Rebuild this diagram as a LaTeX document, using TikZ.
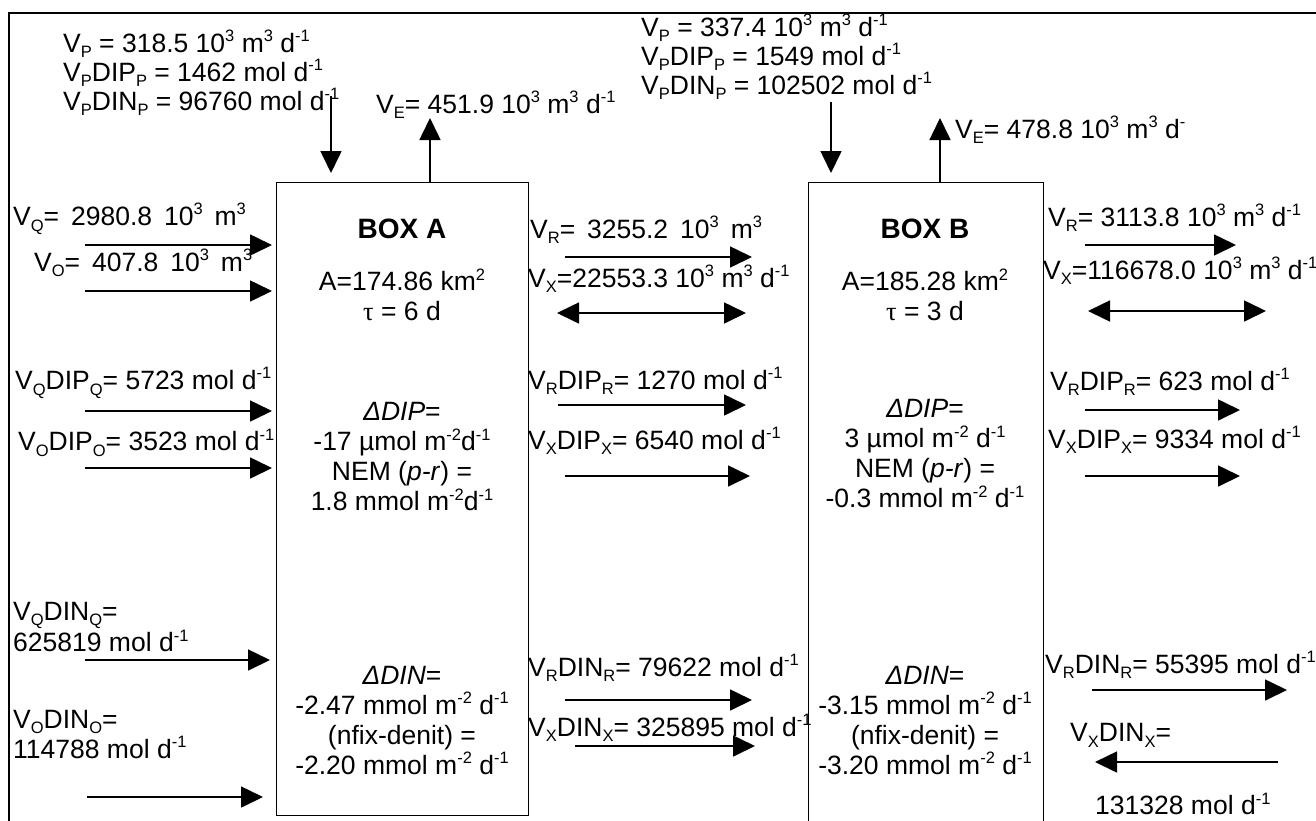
\documentclass[tikz,border=0pt]{standalone}
\usepackage{fontspec}
\setmainfont{Liberation Sans}
\newfontfamily\serifgr{Liberation Serif}
\usepackage{tikz}
\usetikzlibrary{arrows.meta,positioning}

\newcommand{\hi}[1]{\raisebox{0.40em}{\fontsize{16.5}{16.5}\selectfont #1}}
\newcommand{\lo}[1]{\raisebox{-0.22em}{\fontsize{16.5}{16.5}\selectfont #1}}

\tikzset{
  lbl/.style={anchor=west, inner sep=0pt, font=\fontsize{26.5}{30}\selectfont},
  inbox/.style={inner sep=0pt, align=center, font=\fontsize{26.5}{30}\selectfont},
  budget/.style={draw, line width=0.9pt, inner sep=0pt, outer sep=0pt, anchor=north west},
  flow/.style={-{Triangle[length=22pt,width=21pt]}, line width=1.6pt},
  mix/.style={{Triangle[length=22pt,width=21pt]}-{Triangle[length=22pt,width=21pt]}, line width=1.6pt},
}

\begin{document}
\begin{tikzpicture}[x=1pt, y=-1pt]
  \useasboundingbox (0,0) rectangle (1316,820);
  % frame
  \draw[line width=2.2pt] (9,830) -- (9,13) -- (1330,13);
  % boxes
  \node[budget, minimum width=252pt, minimum height=633pt] (boxA) at (276,182) {};
  \node[budget, minimum width=235pt, minimum height=660pt] (boxB) at (808,182) {};

  % box A contents
  \node[inbox, font=\fontsize{28}{30}\selectfont\bfseries] (nameA) at (402,229) {BOX A};
  \node[inbox] (areaA) at (402,280) {A=174.86 km\hi{2}};
  \node[inbox] (tauA) at (402,311) {{\serifgr τ} = 6 d};
  \node[inbox] (dipA) at (402,457) {\textit{ΔDIP}=\\-17 µmol m\hi{-2}d\hi{-1}\\NEM (\textit{p-r}) =\\1.8 mmol m\hi{-2}d\hi{-1}};
  \node[inbox] (dinA) at (402,720) {\textit{ΔDIN}=\\-2.47 mmol m\hi{-2} d\hi{-1}\\(nfix-denit) =\\-2.20 mmol m\hi{-2} d\hi{-1}};

  % box B contents
  \node[inbox, font=\fontsize{28}{30}\selectfont\bfseries] (nameB) at (925,229) {BOX B};
  \node[inbox] (areaB) at (925,280) {A=185.28 km\hi{2}};
  \node[inbox] (tauB) at (925,311) {{\serifgr τ} = 3 d};
  \node[inbox] (dipB) at (925,454) {\textit{ΔDIP}=\\3 µmol m\hi{-2} d\hi{-1}\\NEM (\textit{p-r}) =\\-0.3 mmol m\hi{-2} d\hi{-1}};
  \node[inbox] (dinB) at (925,720) {\textit{ΔDIN}=\\-3.15 mmol m\hi{-2} d\hi{-1}\\(nfix-denit) =\\-3.20 mmol m\hi{-2} d\hi{-1}};

  % precipitation and evaporation
  \node[lbl] (pA1) at (63,44) {V\lo{P} = 318.5 10\hi{3} m\hi{3} d\hi{-1}};
  \node[lbl] (pA2) at (63,73) {V\lo{P}DIP\lo{P} = 1462 mol d\hi{-1}};
  \node[lbl] (pA3) at (63,102) {V\lo{P}DIN\lo{P} = 96760 mol d\hi{-1}};
  \node[lbl] (eA) at (376,105) {V\lo{E}= 451.9 10\hi{3} m\hi{3} d\hi{-1}};
  \node[lbl] (pB1) at (641,28) {V\lo{P} = 337.4 10\hi{3} m\hi{3} d\hi{-1}};
  \node[lbl] (pB2) at (641,57) {V\lo{P}DIP\lo{P} = 1549 mol d\hi{-1}};
  \node[lbl] (pB3) at (641,86) {V\lo{P}DIN\lo{P} = 102502 mol d\hi{-1}};
  \node[lbl] (eB) at (955,130) {V\lo{E}= 478.8 10\hi{3} m\hi{3} d\hi{-}};
  \coordinate (pAtop) at (331,96);
  \coordinate (eAtip) at (430,118);
  \coordinate (pBtop) at (831,102);
  \coordinate (eBtip) at (940,118);
  \draw[flow, shorten >=9pt] (pAtop) -- (pAtop |- boxA.north);
  \draw[flow] (eAtip |- boxA.north) -- (eAtip);
  \draw[flow, shorten >=9pt] (pBtop) -- (pBtop |- boxB.north);
  \draw[flow] (eBtip |- boxB.north) -- (eBtip);

  % inflow to box A
  \node[lbl] (qA) at (13,219) {V\lo{Q}=\hspace{0.45em}2980.8\hspace{0.45em}10\hi{3}\hspace{0.45em}m\hi{3}};
  \node[lbl] (oA) at (34,263) {V\lo{O}=\hspace{0.45em}407.8\hspace{0.45em}10\hi{3}\hspace{0.45em}m\hi{3}};
  \node[lbl] (qdipA) at (15,383) {V\lo{Q}DIP\lo{Q}= 5723 mol d\hi{-1}};
  \node[lbl] (odipA) at (18,443) {V\lo{O}DIP\lo{O}= 3523 mol d\hi{-1}};
  \node[lbl, align=left] (qdinA) at (13,627) {V\lo{Q}DIN\lo{Q}=\\625819 mol d\hi{-1}};
  \node[lbl, align=left] (odinA) at (13,734) {V\lo{O}DIN\lo{O}=\\114788 mol d\hi{-1}};
  \coordinate (q1) at (85,245);  \coordinate (q2) at (272,245);
  \coordinate (o1) at (85,291);  \coordinate (o2) at (272,291);
  \coordinate (qd1) at (85,411); \coordinate (qd2) at (272,411);
  \coordinate (od1) at (85,468); \coordinate (od2) at (272,468);
  \coordinate (qn1) at (85,660); \coordinate (qn2) at (270,660);
  \coordinate (on1) at (87,797); \coordinate (on2) at (263,797);
  \draw[flow] (q1) -- (q2);
  \draw[flow] (o1) -- (o2);
  \draw[flow] (qd1) -- (qd2);
  \draw[flow] (od1) -- (od2);
  \draw[flow] (qn1) -- (qn2);
  \draw[flow] (on1) -- (on2);

  % exchange A -- B
  \node[lbl] (rAB) at (530,230) {V\lo{R}=\hspace{0.45em}3255.2\hspace{0.45em}10\hi{3}\hspace{0.45em}m\hi{3}};
  \node[lbl] (xAB) at (528,279) {V\lo{X}=22553.3 10\hi{3} m\hi{3} d\hi{-1}};
  \node[lbl] (rdipAB) at (528,381) {V\lo{R}DIP\lo{R}= 1270 mol d\hi{-1}};
  \node[lbl] (xdipAB) at (528,441) {V\lo{X}DIP\lo{X}= 6540 mol d\hi{-1}};
  \node[lbl] (rdinAB) at (528,668) {V\lo{R}DIN\lo{R}= 79622 mol d\hi{-1}};
  \node[lbl] (xdinAB) at (528,728) {V\lo{X}DIN\lo{X}= 325895 mol d\hi{-1}};
  \coordinate (r1) at (565,257);  \coordinate (r2) at (752,257);
  \coordinate (x1) at (557,313);  \coordinate (x2) at (746,313);
  \coordinate (rd1) at (558,405); \coordinate (rd2) at (746,405);
  \coordinate (xd1) at (565,476); \coordinate (xd2) at (750,476);
  \coordinate (rn1) at (565,700); \coordinate (rn2) at (752,700);
  \coordinate (xn1) at (575,746); \coordinate (xn2) at (755,746);
  \draw[flow] (r1) -- (r2);
  \draw[mix] (x1) -- (x2);
  \draw[flow] (rd1) -- (rd2);
  \draw[flow] (xd1) -- (xd2);
  \draw[flow] (rn1) -- (rn2);
  \draw[flow] (xn1) -- (xn2);

  % exchange B -- sea
  \node[lbl] (rBS) at (1048,218) {V\lo{R}= 3113.8 10\hi{3} m\hi{3} d\hi{-1}};
  \node[lbl] (xBS) at (1043,271) {V\lo{X}=116678.0 10\hi{3} m\hi{3} d\hi{-1}};
  \node[lbl] (rdipBS) at (1050,382) {V\lo{R}DIP\lo{R}= 623 mol d\hi{-1}};
  \node[lbl] (xdipBS) at (1048,440) {V\lo{X}DIP\lo{X}= 9334 mol d\hi{-1}};
  \node[lbl] (rdinBS) at (1045,665) {V\lo{R}DIN\lo{R}= 55395 mol d\hi{-1}};
  \node[lbl] (xdinBS) at (1070,735) {V\lo{X}DIN\lo{X}=};
  \node[lbl] (xdinBS2) at (1095,804) {131328 mol d\hi{-1}};
  \coordinate (rs1) at (1085,245);  \coordinate (rs2) at (1236,245);
  \coordinate (xs1) at (1088,311);  \coordinate (xs2) at (1266,311);
  \coordinate (rsd1) at (1085,410); \coordinate (rsd2) at (1240,410);
  \coordinate (xsd1) at (1085,476); \coordinate (xsd2) at (1240,476);
  \coordinate (rsn1) at (1092,690); \coordinate (rsn2) at (1287,690);
  \coordinate (xsn1) at (1278,762); \coordinate (xsn2) at (1095,762);
  \draw[flow] (rs1) -- (rs2);
  \draw[mix] (xs1) -- (xs2);
  \draw[flow] (rsd1) -- (rsd2);
  \draw[flow] (xsd1) -- (xsd2);
  \draw[flow] (rsn1) -- (rsn2);
  \draw[flow] (xsn1) -- (xsn2);
\end{tikzpicture}
\end{document}
